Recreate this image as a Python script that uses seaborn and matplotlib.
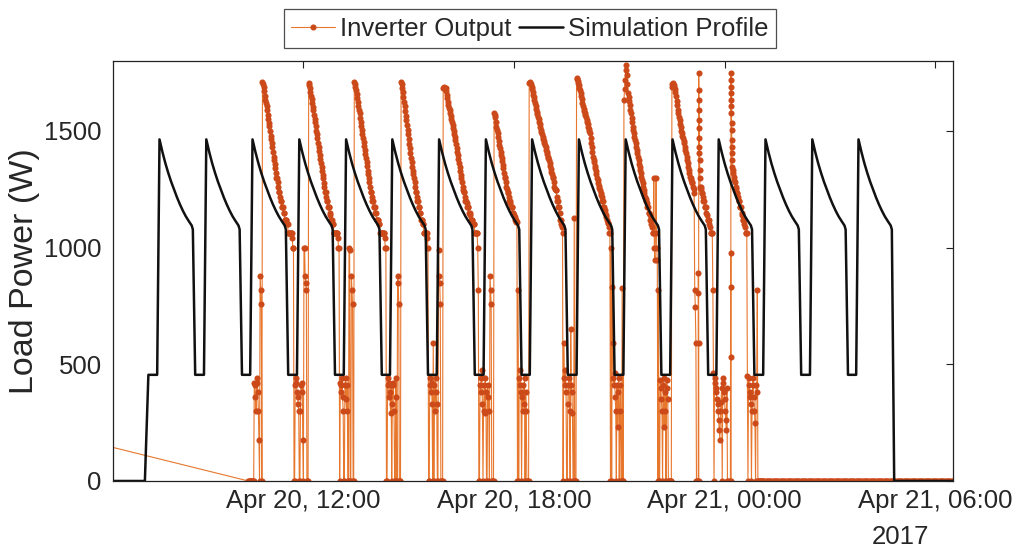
import numpy as np
import pandas as pd
import matplotlib
matplotlib.use("Agg")
import matplotlib.pyplot as plt
import matplotlib.dates as mdates
import seaborn as sns

# ---------------- Simulation profile ----------------
sim_lead_times = ["2017-04-20 06:34", "2017-04-20 07:29", "2017-04-20 07:35"]
sim_lead_values = [0, 0, 455]
sim_peak_times = [
    "2017-04-20 07:54", "2017-04-20 09:14", "2017-04-20 10:33", "2017-04-20 11:53",
    "2017-04-20 13:13", "2017-04-20 14:32", "2017-04-20 15:52", "2017-04-20 17:12",
    "2017-04-20 18:31", "2017-04-20 19:51", "2017-04-20 21:11", "2017-04-20 22:31",
    "2017-04-20 23:50", "2017-04-21 01:10", "2017-04-21 02:30", "2017-04-21 03:49",
]
# one heating cycle, minutes relative to its peak
sim_cycle_minutes = [-4, 0, 5, 10, 15, 20, 25, 30, 35, 40, 45, 50, 55, 57, 61]
sim_cycle_values = [455, 1464, 1410, 1362, 1320, 1282, 1248, 1215, 1185, 1158,
                    1134, 1114, 1095, 1078, 455]
sim_tail_times = ["2017-04-21 04:50", "2017-04-21 06:30"]
sim_tail_values = [0, 0]

# ---------------- Inverter output (logged samples) ----------------
inv_lead_times = ["2017-04-20 03:00"]
inv_lead_values = [277]

c00_start = "2017-04-20 10:26"
c00_values = [0, 0, 0, 0, 0, 0, 0, 0, 0, 0, 420, 410, 360, 300, 420, 440, 380, 300,
              176, 0, 880, 820, 760, 0]
c01_start = "2017-04-20 10:50"
c01_values = [1711, 1700, 1690, 1670, 1650, 1633, 1620, 1605, 1590, 1570, 1550, 1535,
              1520, 1500, 1480, 1465, 1450, 1430, 1410, 1390, 1375, 1360, 1340, 1320,
              1300, 1297, 1280, 1260, 1240, 1240, 1219, 1200, 1200, 1176, 1176, 1176,
              1150, 1150, 1119, 1119, 1119, 1119, 1100, 1100, 1062, 1062, 1062, 1062,
              1062, 1062, 1062, 1040, 1000, 997,
              0, 0, 410, 420, 440, 380, 360, 330, 300, 0, 0, 300, 410, 380, 420, 176,
              0, 1000, 1000, 880, 850, 820, 0, 0, 0]
c02_start = "2017-04-20 12:09"
c02_values = [1704, 1695, 1685, 1668, 1650, 1635, 1620, 1603, 1588, 1570, 1552, 1537,
              1520, 1502, 1485, 1468, 1450, 1433, 1415, 1398, 1380, 1362, 1345, 1328,
              1310, 1297, 1276, 1260, 1240, 1240, 1219, 1200, 1200, 1176, 1176, 1176,
              1150, 1140, 1119, 1119, 1119, 1100, 1100, 1062, 1062, 1062, 1062, 1062,
              1062, 1062, 1040, 1000, 1000,
              0, 420, 410, 380, 440, 360, 300, 0, 0, 410, 440, 350, 300, 410, 0, 0,
              1000, 990, 0, 0, 880, 820, 760, 0, 0]
c03_start = "2017-04-20 13:27"
c03_values = [1711, 1702, 1690, 1675, 1658, 1640, 1625, 1608, 1590, 1575, 1557, 1540,
              1522, 1505, 1488, 1470, 1452, 1435, 1418, 1400, 1383, 1365, 1348, 1330,
              1315, 1297, 1280, 1260, 1240, 1240, 1219, 1200, 1200, 1176, 1176, 1176,
              1150, 1150, 1119, 1119, 1119, 1119, 1100, 1100, 1062, 1062, 1062, 1062,
              1062, 1062, 1062, 1062, 1040, 1000, 997,
              0, 0, 440, 410, 420, 360, 380, 290, 410, 0, 330, 420, 410, 300, 0, 0,
              440, 360, 0, 880, 850, 760, 0, 0, 0]
c04_start = "2017-04-20 14:47"
c04_values = [1711, 1700, 1685, 1665, 1645, 1625, 1605, 1585, 1565, 1545, 1525, 1505,
              1485, 1465, 1445, 1425, 1405, 1385, 1365, 1345, 1330, 1315, 1297, 1280,
              1260, 1240, 1240, 1219, 1200, 1200, 1176, 1176, 1150, 1150, 1119, 1119,
              1119, 1100, 1100, 1062, 1062, 1062, 1062, 1062, 1062, 1040, 1000,
              0, 0, 410, 440, 380, 420, 330, 0, 590, 0, 410, 300, 440, 380, 330, 0, 0,
              990, 880, 850, 760, 0, 0, 0, 0]
c05_start = "2017-04-20 15:59"
c05_values = [1683, 1690, 1685, 1683, 1683, 1670, 1655, 1640, 1625, 1610, 1600, 1590,
              1578, 1565, 1552, 1540, 1527, 1514, 1500, 1488, 1476, 1460, 1445, 1428,
              1412, 1395, 1380, 1363, 1347, 1330, 1313, 1297, 1280, 1262, 1247, 1240,
              1240, 1219, 1200, 1200, 1190, 1176, 1176, 1176, 1150, 1150, 1140, 1119,
              1119, 1119, 1119, 1100, 1100, 1100, 1062, 1062, 1062, 1062, 1062,
              1000, 819, 0, 0, 410, 380, 440, 476, 330, 0, 300, 410, 290, 440, 380, 0,
              0, 410, 360, 300, 0, 880, 820, 760, 0, 0, 0, 0]
c06_start = "2017-04-20 17:26"
c06_values = [1576, 1570, 1560, 1540, 1519, 1505, 1490, 1475, 1458, 1440, 1425, 1408,
              1395, 1385, 1370, 1355, 1340, 1320, 1304, 1297, 1280, 1262, 1250, 1240,
              1233, 1219, 1200, 1200, 1190, 1176, 1176, 1176, 1150, 1150, 1140, 1133,
              1119, 1119, 1111, 1111,
              0, 819, 0, 440, 410, 476, 380, 0, 360, 300, 410, 330, 440, 0, 380, 300,
              0, 0, 0, 0]
c07_start = "2017-04-20 18:26"
c07_values = [1704, 1710, 1706, 1700, 1690, 1680, 1668, 1656, 1645, 1632, 1618, 1605,
              1594, 1583, 1572, 1561, 1550, 1539, 1528, 1517, 1506, 1495, 1485, 1476,
              1467, 1458, 1449, 1440, 1430, 1420, 1410, 1400, 1390, 1383, 1376, 1362,
              1350, 1338, 1326, 1315, 1304, 1297, 1280, 1262, 1250, 1247, 1247, 1219,
              1200, 1200, 1176, 1176, 1150, 1119, 1119, 1100, 1090, 1062,
              0, 590, 440, 410, 476, 380, 0, 0, 330, 410, 440, 300, 0, 650, 410, 380,
              290, 0, 0, 1127, 0, 0, 0]
c08_start = "2017-04-20 19:47"
c08_values = [1726, 1722, 1715, 1706, 1696, 1685, 1674, 1662, 1650, 1638, 1622, 1605,
              1596, 1587, 1578, 1568, 1558, 1548, 1538, 1528, 1518, 1508, 1499, 1490,
              1470, 1450, 1430, 1410, 1390, 1376, 1365, 1352, 1340, 1328, 1315, 1300,
              1290, 1276, 1266, 1256, 1247, 1233, 1225, 1219, 1200, 1200, 1176, 1176,
              1162, 1150, 1140, 1130, 1119, 1105, 1105, 1090, 1062, 1062,
              0, 1000, 0, 833, 590, 440, 410, 463, 360, 300, 0, 410, 233, 380, 440, 0,
              300, 410, 0, 0, 827, 0, 0]
c09_start = "2017-04-20 21:08"
c09_values = [1633, 1680, 1720, 1760, 1783, 1740, 1700, 1662, 1645, 1628, 1610, 1592,
              1575, 1557, 1538, 1519, 1505, 1490, 1476, 1462, 1448, 1433, 1419, 1405,
              1390, 1375, 1360, 1346, 1332, 1318, 1304, 1290, 1276, 1262, 1247, 1233,
              1219, 1210, 1200, 1190, 1176, 1176, 1150, 1150, 1140, 1119, 1119, 1100,
              1090, 1062, 1062, 1297, 1000, 947, 1062, 1297, 1000, 947,
              0, 819, 0, 0, 433, 400, 350, 300, 0, 410, 440, 233, 380, 300, 0, 433,
              400, 350, 0, 0, 0, 0, 0, 0]
c10_start = "2017-04-20 22:30"
c10_values = [1690, 1700, 1705, 1695, 1690, 1680, 1665, 1650, 1630, 1610, 1590, 1575,
              1560, 1545, 1530, 1515, 1500, 1490, 1480, 1470, 1458, 1447, 1432, 1418,
              1404, 1390, 1376, 1362, 1347, 1333, 1318, 1304, 1297, 1290, 1280, 1276,
              1262, 1250, 1233, 819, 747, 590, 0, 0]
s1a_start = "2017-04-20 23:15:00"
s1a_values = [0, 890, 804, 590, 0, 1747, 1676, 1633, 1590, 1547, 1512, 1469, 1433,
              1404, 1376, 1333, 1297]
s1b_start = "2017-04-20 23:18"
s1b_values = [1262, 1262, 1250, 1233, 1233, 1219, 1200, 1200, 1176, 1176, 1176, 1150,
              1140, 1119, 1119, 1119, 1100, 1090, 1062, 1062, 1062, 1062, 819, 461, 0,
              440, 420, 400, 380, 350, 330, 300, 260, 220, 176, 300, 340, 400, 0, 440,
              420, 380, 350, 300, 260, 220, 400, 0, 0]
s2a_start = "2017-04-21 00:10:00"
s2a_values = [0, 533, 833, 976, 0, 1747, 1719, 1690, 1662, 1633, 1605, 1576, 1533,
              1505, 1462, 1433, 1404, 1376, 1347]
s2b_start = "2017-04-21 00:14"
s2b_values = [1333, 1318, 1304, 1290, 1280, 1262, 1250, 1233, 1233, 1219, 1200, 1200,
              1176, 1176, 1176, 1150, 1140, 1119, 1119, 1119, 1100, 1090, 1062, 1062,
              1062, 450, 0, 440, 410, 380, 360, 330, 0, 300, 410, 440, 360, 300, 250,
              0, 410, 380, 819, 0, 0, 0, 0, 0, 0, 0, 0, 0]
tail_start = "2017-04-21 01:06"
tail_values = [0] * 163

LOG_STEP = pd.Timedelta(minutes=1)
TAIL_STEP = pd.Timedelta(minutes=2)
BURST_STEP = pd.Timedelta(seconds=10)

segments = [
    (c00_start, LOG_STEP, c00_values), (c01_start, LOG_STEP, c01_values),
    (c02_start, LOG_STEP, c02_values), (c03_start, LOG_STEP, c03_values),
    (c04_start, LOG_STEP, c04_values), (c05_start, LOG_STEP, c05_values),
    (c06_start, LOG_STEP, c06_values), (c07_start, LOG_STEP, c07_values),
    (c08_start, LOG_STEP, c08_values), (c09_start, LOG_STEP, c09_values),
    (c10_start, LOG_STEP, c10_values), (s1a_start, BURST_STEP, s1a_values),
    (s1b_start, LOG_STEP, s1b_values), (s2a_start, BURST_STEP, s2a_values),
    (s2b_start, LOG_STEP, s2b_values), (tail_start, TAIL_STEP, tail_values),
]

# assemble the log; each block stops where the next one begins
inv_t = list(pd.to_datetime(inv_lead_times))
inv_v = list(inv_lead_values)
for i, (start, step, vals) in enumerate(segments):
    t0 = pd.Timestamp(start)
    stop = pd.Timestamp(segments[i + 1][0]) if i + 1 < len(segments) else None
    for j, v in enumerate(vals):
        t = t0 + j * step
        if stop is not None and t >= stop:
            break
        inv_t.append(t)
        inv_v.append(v)
inv_df = pd.DataFrame({"time": inv_t, "power": inv_v})

sim_t = list(pd.to_datetime(sim_lead_times))
sim_v = list(sim_lead_values)
for k, pk in enumerate(sim_peak_times):
    p = pd.Timestamp(pk)
    n = len(sim_cycle_minutes) - (1 if k == len(sim_peak_times) - 1 else 0)
    for m, v in zip(sim_cycle_minutes[:n], sim_cycle_values[:n]):
        sim_t.append(p + pd.Timedelta(minutes=m))
        sim_v.append(v)
sim_t += list(pd.to_datetime(sim_tail_times))
sim_v += sim_tail_values
sim_df = pd.DataFrame({"time": sim_t, "power": sim_v})

# ---------------- Figure ----------------
sns.set_theme(style="white")
plt.rcParams["font.family"] = ["Liberation Sans", "DejaVu Sans"]
FS = 18.5

fig = plt.figure(figsize=(10.2, 5.48), dpi=100)
ax = fig.add_axes([0.1105, 0.1223, 0.8235, 0.7664])

sns.lineplot(data=inv_df, x="time", y="power", ax=ax, sort=False, estimator=None,
             color="#E8772E", linewidth=0.8, marker="o", markersize=4.4,
             markerfacecolor="#CC4A1A", markeredgewidth=0, label="Inverter Output")
sns.lineplot(data=sim_df, x="time", y="power", ax=ax, sort=False, estimator=None,
             color="#111111", linewidth=1.8, label="Simulation Profile")

ax.set_xlim(pd.Timestamp("2017-04-20 06:34"), pd.Timestamp("2017-04-21 06:30"))
ax.set_ylim(0, 1800)
ax.set_yticks([0, 500, 1000, 1500])
ax.set_xticks(pd.to_datetime(["2017-04-20 12:00", "2017-04-20 18:00",
                              "2017-04-21 00:00", "2017-04-21 06:00"]))
ax.xaxis.set_major_formatter(mdates.DateFormatter("%b %d, %H:%M"))
ax.set_xlabel("")
ax.set_ylabel("Load Power (W)", fontsize=24.5, labelpad=3)

ax.tick_params(axis="both", which="major", direction="in", length=5, width=0.8,
               top=True, right=True, labelsize=FS, color="#222222")
ax.tick_params(axis="y", pad=8)
ax.tick_params(axis="x", pad=6)
for s in ax.spines.values():
    s.set_visible(True)
    s.set_color("#222222")
    s.set_linewidth(0.9)

fig.text(900 / 1020, 1 - 537 / 548, "2017", ha="center", va="center", fontsize=FS)

leg = ax.legend(loc="upper center", bbox_to_anchor=(530 / 1020, 1 - 9 / 548),
                bbox_transform=fig.transFigure, ncol=2, fontsize=FS, frameon=True,
                fancybox=False, edgecolor="#222222", handlelength=1.7,
                handletextpad=0.2, columnspacing=0.3, borderpad=0.3,
                borderaxespad=0)
leg.get_frame().set_linewidth(0.9)

fig.savefig("out.png", dpi=100, facecolor="white")
